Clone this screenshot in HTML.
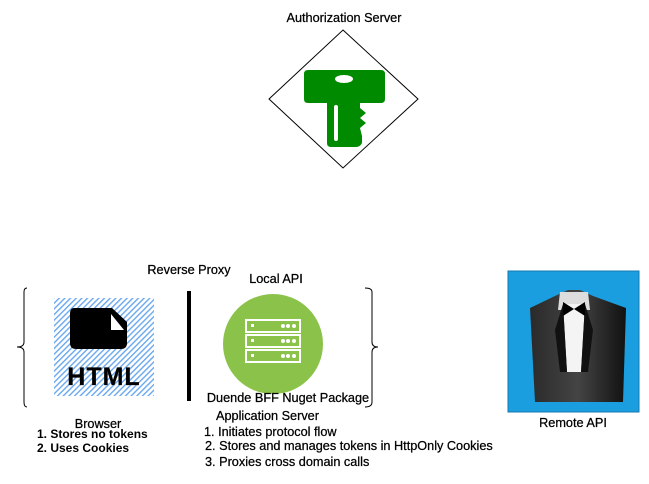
<!DOCTYPE html>
<html><head><meta charset="utf-8"><style>
html,body{margin:0;padding:0;background:#fff;width:649px;height:484px;overflow:hidden}
svg{display:block}
text{font-family:"Liberation Sans",Arial,sans-serif;font-size:12.7px;fill:#000;stroke:#000;stroke-width:0.25}
.b{font-weight:bold;font-size:12px;stroke-width:0}
</style></head><body>
<svg width="649" height="484" viewBox="0 0 649 484">
<defs>
<pattern id="h" width="4" height="4" patternUnits="userSpaceOnUse" patternTransform="rotate(-45)">
<rect width="4" height="4" fill="#fff"/><rect width="4" height="1.4" fill="#6aa8ee"/>
</pattern>
<linearGradient id="jk" x1="0" x2="1"><stop offset="0" stop-color="#2a2a2a"/><stop offset="0.5" stop-color="#444"/><stop offset="1" stop-color="#111"/></linearGradient>
</defs>
<text x="344" y="22" text-anchor="middle">Authorization Server</text>
<polygon points="343,30 418,99 343,168 269,99" fill="#fff" stroke="#000" stroke-width="1"/>
<path d="M308,70 H381 Q385,70 385,74 V99 Q385,103 381,103 H360 V108 L366,113 L360,118 L366,123 L360,128 L362,136 V143 Q360,147 356,147 H331 Q327,147 327,143 V103 H308 Q304,103 304,99 V74 Q304,70 308,70 Z" fill="#008a00"/>
<ellipse cx="344" cy="79" rx="9" ry="4" fill="#fff"/>
<rect x="334" y="105" width="4" height="36" rx="2" fill="#fff"/>

<text x="189" y="274" text-anchor="middle">Reverse Proxy</text>
<text x="276" y="283" text-anchor="middle">Local API</text>
<path d="M27,288 Q24,288 24,292 V342 Q24,347 17,347 Q24,347 24,352 V402 Q24,407 27,407" fill="none" stroke="#000"/>
<path d="M365,288 Q372,288 372,292 V342 Q372,347 378,347 Q372,347 372,352 V402 Q372,407 365,407" fill="none" stroke="#000"/>
<rect x="54" y="298" width="100" height="98" fill="url(#h)"/>
<path d="M74,308 H112 L127,322 V343 Q127,349 121,349 H76 Q70,349 70,343 V314 Q70,308 74,308 Z" fill="#000"/>
<polygon points="111,314 111,330 124,330" fill="#fff"/>
<text x="104" y="385" text-anchor="middle" style="font-size:25px;font-weight:bold;letter-spacing:1px" stroke="#000" stroke-width="1.5">HTML</text>
<rect x="187" y="291" width="4" height="110" fill="#000"/>
<circle cx="273" cy="344" r="50" fill="#8bc34a"/>
<g fill="none" stroke="#fff" stroke-width="2">
<rect x="246" y="320" width="54" height="12"/><rect x="246" y="335" width="54" height="12"/><rect x="246" y="350" width="54" height="12"/>
</g>
<g fill="#fff">
<rect x="251" y="324" width="3" height="3"/><rect x="251" y="339" width="3" height="3"/><rect x="251" y="354" width="3" height="3"/>
<circle cx="283" cy="326" r="2"/><circle cx="288" cy="326" r="2"/><circle cx="294" cy="326" r="2"/>
<circle cx="283" cy="341" r="2"/><circle cx="288" cy="341" r="2"/><circle cx="294" cy="341" r="2"/>
<circle cx="283" cy="356" r="2"/><circle cx="288" cy="356" r="2"/><circle cx="294" cy="356" r="2"/>
</g>
<text x="288" y="402" text-anchor="middle">Duende BFF Nuget Package</text>
<text x="98" y="428" text-anchor="middle">Browser</text>
<text x="37" y="438" class="b">1. Stores no tokens</text>
<text x="37" y="452" class="b">2. Uses Cookies</text>
<text x="216" y="420">Application Server</text>
<text x="204" y="436">1. Initiates protocol flow</text>
<text x="205" y="450">2. Stores and manages tokens in HttpOnly Cookies</text>
<text x="205" y="466">3. Proxies cross domain calls</text>

<rect x="508" y="271" width="131" height="141" fill="#1a9ee0" stroke="#147ab0"/>
<path d="M530,308 L555,296 L568,290 L580,290 L593,296 L626,308 L623,402 L535,402 Z" fill="url(#jk)"/>
<path d="M560,292 L588,292 L590,310 L558,310 Z" fill="#ddd"/>
<path d="M563,304 L585,304 L581,372 L567,372 Z" fill="#f4f4f4"/>
<path d="M563,304 L555,330 L560,372 L567,372 Z M585,304 L593,330 L588,372 L581,372 Z" fill="#111"/>
<path d="M563,302 L574,309 L563,316 Z M585,302 L574,309 L585,316 Z" fill="#000"/>
<text x="573" y="427" text-anchor="middle">Remote API</text>
</svg>
</body></html>
